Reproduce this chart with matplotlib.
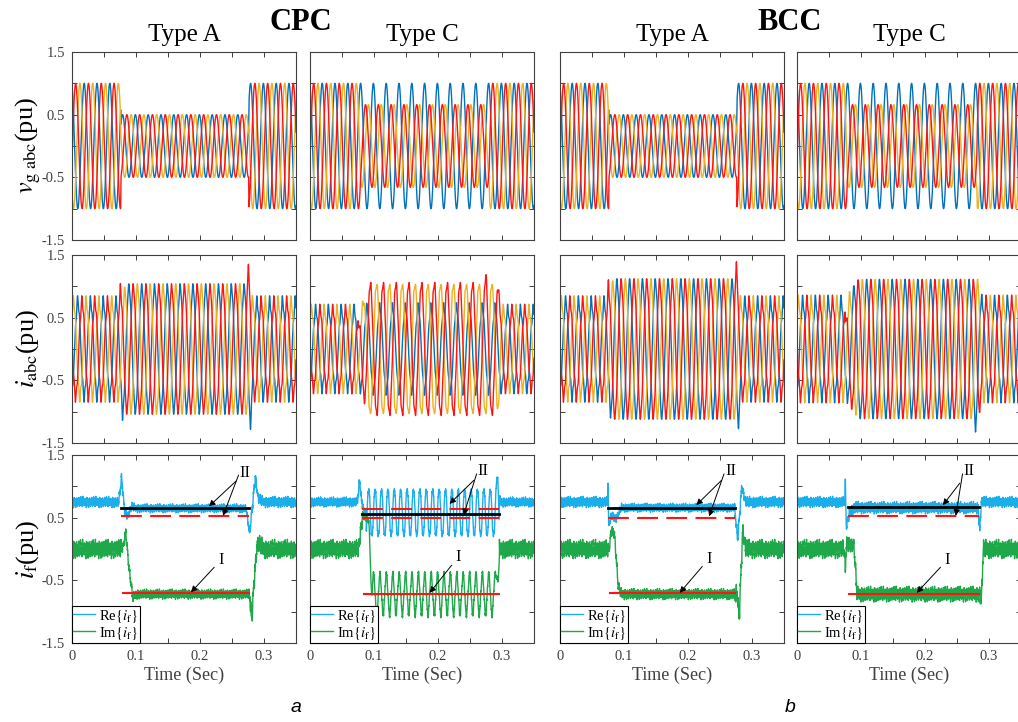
import numpy as np
import matplotlib.pyplot as plt

plt.rcParams['font.family'] = ['Liberation Serif', 'DejaVu Serif']
plt.rcParams['mathtext.fontset'] = 'stix'
plt.rcParams['axes.unicode_minus'] = False

# ---------------------------------------------------------------- data
F0 = 50.0                      # grid frequency (Hz)
T_END = 0.35
t = np.linspace(0.0, T_END, 14001)

groups = ['CPC', 'BCC']
col_titles = ['Type A', 'Type C', 'Type A', 'Type C']

# grid voltage dip window and phasors during the dip (phases a, b, c)
v_on = [0.076, 0.079, 0.076, 0.078]
v_off = [0.276, 0.280, 0.276, 0.281]
v_mag_dip = [[0.5, 0.5, 0.5], [1.0, 0.66, 0.66], [0.5, 0.5, 0.5], [1.0, 0.66, 0.66]]
v_ang_dip = [[0, -120, 120], [0, -139, 139], [0, -120, 120], [0, -139, 139]]

# phase currents
i_on = [0.077, 0.078, 0.076, 0.078]
i_off = [0.276, 0.293, 0.276, 0.283]
i_ramp = [0.007, 0.015, 0.007, 0.018]
i_mag_pre = [0.76, 0.64, 0.76, 0.77]
i_mag_flt = [[1.0, 1.0, 1.0], [0.68, 1.04, 1.04], [1.08, 1.08, 1.08], [1.07, 1.07, 1.07]]
i_ang_flt = [[0, -120, 120], [0, -92, 88], [0, -120, 120], [0, -120, 120]]
i_harm_pre = [0.06, 0.05, 0.06, 0.06]
i_harm_flt = [0.03, 0.04, 0.03, 0.03]
# short transient spikes: (column, phase, time, peak, width)
i_spikes = [(0, 1, 0.0757, 0.22, 0.002), (0, 0, 0.079, -0.25, 0.002),
            (0, 1, 0.2757, 0.32, 0.002), (0, 0, 0.279, -0.35, 0.002),
            (1, 1, 0.0757, -0.35, 0.002), (1, 1, 0.2757, 0.18, 0.002),
            (2, 1, 0.0757, 0.28, 0.0015), (2, 0, 0.079, -0.15, 0.0015),
            (2, 1, 0.2757, 0.28, 0.002), (2, 0, 0.279, -0.30, 0.002),
            (3, 1, 0.0757, -0.40, 0.0015), (3, 0, 0.279, -0.22, 0.002)]

# Re{i_f} and Im{i_f}: knots of the mean trajectory (time, value)
re_t = [[0, 0.073, 0.0775, 0.082, 0.087, 0.093, 0.10, 0.272, 0.2775, 0.281, 0.2865, 0.291, 0.30, 0.35],
        [0, 0.074, 0.0775, 0.080, 0.085, 0.095, 0.29, 0.294, 0.297, 0.30, 0.35],
        [0, 0.0745, 0.0752, 0.076, 0.080, 0.088, 0.095, 0.273, 0.2775, 0.281, 0.284, 0.29, 0.35],
        [0, 0.0745, 0.0755, 0.077, 0.082, 0.092, 0.283, 0.2855, 0.288, 0.35]]
re_v = [[0.75, 0.75, 1.15, 0.62, 0.52, 0.68, 0.65, 0.65, 0.25, 0.60, 1.15, 0.80, 0.75, 0.75],
        [0.75, 0.75, 1.10, 0.80, 0.58, 0.58, 0.58, 0.95, 0.75, 0.75, 0.75],
        [0.75, 0.75, 1.10, 0.35, 0.55, 0.48, 0.66, 0.66, 0.15, 0.60, 1.00, 0.75, 0.75],
        [0.75, 0.75, 1.05, 0.35, 0.60, 0.66, 0.66, 0.30, 0.75, 0.75]]
im_t = [[0, 0.079, 0.084, 0.089, 0.095, 0.10, 0.277, 0.281, 0.284, 0.289, 0.292, 0.30, 0.35],
        [0, 0.076, 0.082, 0.092, 0.096, 0.10, 0.29, 0.295, 0.35],
        [0, 0.077, 0.080, 0.085, 0.091, 0.096, 0.277, 0.280, 0.2855, 0.29, 0.35],
        [0, 0.074, 0.0755, 0.077, 0.089, 0.094, 0.286, 0.288, 0.291, 0.35]]
im_v = [[0.0, 0.0, 0.27, -0.30, -0.78, -0.72, -0.72, -1.10, -0.60, 0.05, 0.08, 0.0, 0.0],
        [0.0, 0.0, 0.55, 0.45, -0.72, -0.72, -0.72, 0.0, 0.0],
        [0.0, 0.0, 0.30, 0.25, -0.60, -0.72, -0.72, -1.10, 0.30, 0.0, 0.0],
        [0.0, 0.0, -0.40, 0.10, 0.05, -0.72, -0.72, -0.85, 0.0, 0.0]]
# high-frequency ripple amplitude (pre / during fault) and 100 Hz swing
re_rip = [[0.10, 0.08], [0.09, 0.06], [0.10, 0.08], [0.10, 0.11]]
im_rip = [[0.17, 0.09], [0.17, 0.07], [0.17, 0.10], [0.17, 0.14]]
re_swing = [0.0, 0.38, 0.0, 0.0]
im_swing = [0.0, 0.32, 0.0, 0.0]
ripple_hz = [300, 650, 1450, 2300]
ripple_w = [0.45, 0.3, 0.2, 0.12]

# reference lines: Re (black), Re dashed (red), Im (red)
ref_span = [(0.077, 0.277), (0.082, 0.296), (0.075, 0.273), (0.079, 0.285)]
re_ref = [0.66, 0.56, 0.65, 0.67]
re_dash = [[0.52], [0.64, 0.50], [0.49], [0.52]]
im_ref = [-0.70, -0.72, -0.70, -0.72]

# annotation positions: II text, its two arrow heads, I text and arrow head
ii_txt = [(0.262, 1.22), (0.262, 1.24), (0.258, 1.24), (0.260, 1.24)]
ii_heads = [[(0.214, 0.68), (0.236, 0.53)], [(0.218, 0.72), (0.240, 0.54)],
            [(0.213, 0.70), (0.233, 0.52)], [(0.228, 0.70), (0.248, 0.53)]]
i_txt = [(0.228, -0.18), (0.227, -0.13), (0.228, -0.16), (0.230, -0.18)]
i_head = [(0.186, -0.69), (0.187, -0.70), (0.187, -0.70), (0.187, -0.70)]

yticks = [-1.5, -1, -0.5, 0, 0.5, 1, 1.5]
ytick_labels = ['-1.5', '', '-0.5', '', '0.5', '', '1.5']
xticks = [0, 0.05, 0.1, 0.15, 0.2, 0.25, 0.3, 0.35]
xtick_labels = ['0', '', '0.1', '', '0.2', '', '0.3', '']

phase_colors = ['#0072BD', '#FF1414', '#EDB120']
re_color = '#1AAEEB'
im_color = '#1FA84A'

# ---------------------------------------------------------------- signals
w = 2 * np.pi * F0
phi_v = 0.3
phi_i = 3.45
base_ang = np.deg2rad([0, -120, 120])


def voltages(c):
    wgt = np.interp(t, [v_on[c], v_on[c] + 0.0005, v_off[c], v_off[c] + 0.0005], [0, 1, 1, 0])
    out = []
    for k in range(3):
        p_pre = np.exp(1j * base_ang[k])
        p_dip = v_mag_dip[c][k] * np.exp(1j * np.deg2rad(v_ang_dip[c][k]))
        p = (1 - wgt) * p_pre + wgt * p_dip
        out.append(np.real(p * np.exp(1j * (w * t + phi_v))))
    return out


def currents(c):
    wgt = np.interp(t, [i_on[c], i_on[c] + i_ramp[c], i_off[c], i_off[c] + 0.006], [0, 1, 1, 0])
    harm = (1 - wgt) * i_harm_pre[c] + wgt * i_harm_flt[c]
    out = []
    for k in range(3):
        p_pre = i_mag_pre[c] * np.exp(1j * base_ang[k])
        p_flt = i_mag_flt[c][k] * np.exp(1j * np.deg2rad(i_ang_flt[c][k]))
        p = (1 - wgt) * p_pre + wgt * p_flt
        th = w * t + phi_i + base_ang[k]
        y = np.real(p * np.exp(1j * (w * t + phi_i)))
        y = y + harm * (np.cos(5 * th + 0.6) + 0.6 * np.cos(7 * th + 1.1))
        for (cc, ph, ts, amp, wd) in i_spikes:
            if cc == c and ph == k:
                y = y + amp * np.exp(-np.abs(t - ts) / wd)
        out.append(y)
    return out


def ripple(phase):
    r = np.zeros_like(t)
    for f, a in zip(ripple_hz, ripple_w):
        r += a * np.sin(2 * np.pi * f * t + phase * f / 300.0)
    return r / sum(ripple_w)


def if_signals(c):
    inside = (t > ref_span[c][0]) & (t < ref_span[c][1])
    re = np.interp(t, re_t[c], re_v[c])
    im = np.interp(t, im_t[c], im_v[c])
    re += np.where(inside, re_rip[c][1], re_rip[c][0]) * ripple(0.4 + c)
    im += np.where(inside, im_rip[c][1], im_rip[c][0]) * ripple(1.7 + c)
    re += np.where(inside & (t > 0.088), re_swing[c], 0) * np.sin(2 * w * t + 0.5)
    im += np.where(inside & (t > 0.097), im_swing[c], 0) * np.sin(2 * w * t + 2.0)
    return re, im


# ---------------------------------------------------------------- layout
W, H = 1018, 722
fig = plt.figure(figsize=(W / 100, H / 100), dpi=100)
col_left = [72, 310, 560, 797]
col_w = 224
row_top = [52, 255, 455]
row_h = 188

axes = [[None] * 4 for _ in range(3)]
for r in range(3):
    for c in range(4):
        ax = fig.add_axes([col_left[c] / W, 1 - (row_top[r] + row_h) / H, col_w / W, row_h / H])
        ax.set_xlim(0, T_END)
        ax.set_ylim(-1.5, 1.5)
        ax.set_xticks(xticks)
        ax.set_yticks(yticks)
        ax.set_xticklabels(xtick_labels if r == 2 else [''] * len(xticks))
        ax.set_yticklabels(ytick_labels if c == 0 else [''] * len(yticks))
        ax.tick_params(direction='in', top=True, right=True, length=3.5, width=0.7,
                       colors='#404040', labelsize=10.5, pad=5)
        for s in ax.spines.values():
            s.set_color('#404040')
            s.set_linewidth(0.8)
        axes[r][c] = ax

for c in range(4):
    va, vb, vc = voltages(c)
    ax = axes[0][c]
    for y, col in zip([va, vc, vb], [phase_colors[0], phase_colors[2], phase_colors[1]]):
        ax.plot(t, y, color=col, lw=1.0)

    ia, ib, ic = currents(c)
    ax = axes[1][c]
    for y, col in zip([ia, ic, ib], [phase_colors[0], phase_colors[2], phase_colors[1]]):
        ax.plot(t, y, color=col, lw=1.0)

    re, im = if_signals(c)
    ax = axes[2][c]
    ax.plot(t, re, color=re_color, lw=1.0, label=r'Re$\{i_{\mathrm{f}}\}$')
    ax.plot(t, im, color=im_color, lw=1.0, label=r'Im$\{i_{\mathrm{f}}\}$')
    t0, t1 = ref_span[c]
    ax.plot([t0, t1], [re_ref[c], re_ref[c]], color='k', lw=2.0)
    for yd in re_dash[c]:
        ax.plot([t0, t1], [yd, yd], color='#FF1414', lw=1.5, dashes=(10, 4))
    ax.plot([t0 + 0.003, t1], [im_ref[c], im_ref[c]], color='#FF1414', lw=1.5)

    aprops = dict(arrowstyle='-|>', color='k', lw=0.7, mutation_scale=9, shrinkA=1, shrinkB=0)
    tx, ty = ii_txt[c]
    ax.annotate('II', xy=ii_heads[c][0], xytext=(tx, ty), fontsize=12,
                ha='left', va='center', arrowprops=aprops)
    ax.annotate('', xy=ii_heads[c][1], xytext=(tx - 0.001, ty - 0.02), arrowprops=aprops)
    ax.annotate('I', xy=i_head[c], xytext=i_txt[c], fontsize=12,
                ha='left', va='center', arrowprops=aprops)

    leg = ax.legend(loc='lower left', fontsize=10.5, handlelength=1.5, handletextpad=0.25,
                    borderaxespad=0.0, borderpad=0.1, labelspacing=0.0, fancybox=False,
                    framealpha=1, edgecolor='k')
    leg.get_frame().set_linewidth(0.8)

    cx = (col_left[c] + col_w / 2) / W
    fig.text(cx, 1 - 41 / H, col_titles[c], ha='center', va='baseline', fontsize=18)
    fig.text(cx, 1 - 675 / H, 'Time (Sec)', ha='center', va='center', fontsize=13, color='#404040')

fig.text(301 / W, 1 - 30 / H, groups[0], ha='center', va='baseline', fontsize=22, fontweight='bold')
fig.text(790 / W, 1 - 30 / H, groups[1], ha='center', va='baseline', fontsize=22, fontweight='bold')

ylabels = [r'$v_{\mathrm{g\ abc}}$(pu)', r'$i_{\mathrm{abc}}$(pu)', r'$i_{\mathrm{f}}$(pu)']
for r in range(3):
    fig.text(28 / W, 1 - (row_top[r] + row_h / 2) / H, ylabels[r], rotation=90,
             ha='center', va='center', fontsize=19)

fig.text(296 / W, 1 - 708 / H, 'a', fontsize=14, style='italic', family='Liberation Sans',
         ha='center', va='center')
fig.text(790 / W, 1 - 708 / H, 'b', fontsize=14, style='italic', family='Liberation Sans',
         ha='center', va='center')

fig.savefig('out.png', dpi=100)
